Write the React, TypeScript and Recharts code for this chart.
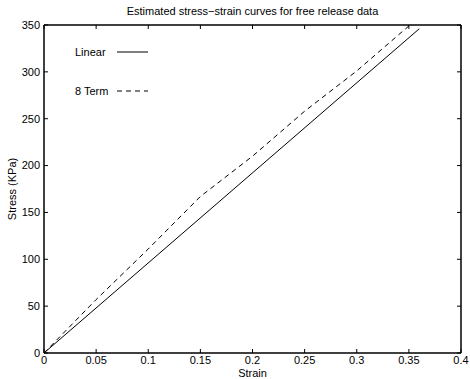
import { LineChart, Line, XAxis, YAxis, Legend } from "recharts";

const title = "Estimated stress\u2212strain curves for free release data";
const seriesNames = ["Linear", "8 Term"];
const xTicks = [0, 0.05, 0.1, 0.15, 0.2, 0.25, 0.3, 0.35, 0.4];
const yTicks = [0, 50, 100, 150, 200, 250, 300, 350];

const linearStrain = [0, 0.36];
const linearStress = [0, 346];

const termStrain = [0, 0.05, 0.1, 0.15, 0.2, 0.25, 0.3, 0.35];
const termStress = [0, 57, 111, 167, 210, 258, 301, 349];

const linearData = linearStrain.map((s, i) => ({ strain: s, stress: linearStress[i] }));
const termData = termStrain.map((s, i) => ({ strain: s, stress: termStress[i] }));

const font = "'Liberation Sans', Arial, Helvetica, sans-serif";
const TICK = 4;
const axisStroke = { stroke: "#000", strokeWidth: 1.5 };

// ticks point into the plot, like matlab
const bottomTick = ({ x, y, payload }: any) => (
  <g>
    <line x1={x} x2={x} y1={y} y2={y - TICK} stroke="#000" strokeWidth={1} />
    <text x={x} y={y + 3} dy="0.71em" textAnchor="middle" fontSize={11} fontFamily={font} fill="#000">
      {String(payload.value)}
    </text>
  </g>
);

const leftTick = ({ x, y, payload }: any) => (
  <g>
    <line x1={x} x2={x + TICK} y1={y} y2={y} stroke="#000" strokeWidth={1} />
    <text x={x - 4} y={y} dy="0.355em" textAnchor="end" fontSize={11} fontFamily={font} fill="#000">
      {String(payload.value)}
    </text>
  </g>
);

const topTick = ({ x, y }: any) => <line x1={x} x2={x} y1={y} y2={y + TICK} stroke="#000" strokeWidth={1} />;

const rightTick = ({ x, y }: any) => <line x1={x} x2={x - TICK} y1={y} y2={y} stroke="#000" strokeWidth={1} />;

function LegendBox({ payload }: any) {
  const items = [...(payload || [])].sort(
    (a: any, b: any) => seriesNames.indexOf(a.value) - seriesNames.indexOf(b.value)
  );
  return (
    <div style={{ fontFamily: font, fontSize: 11, color: "#000" }}>
      {items.map((p: any, i: number) => (
        <div key={i} style={{ display: "flex", alignItems: "center", height: 13, marginBottom: i === 0 ? 26 : 0 }}>
          <span style={{ width: 42 }}>{p.value}</span>
          <svg width={32} height={4}>
            <line
              x1={0}
              x2={31}
              y1={2}
              y2={2}
              stroke="#000"
              strokeWidth={1}
              strokeDasharray={p.payload?.strokeDasharray}
            />
          </svg>
        </div>
      ))}
    </div>
  );
}

export default function App() {
  return (
    <div style={{ position: "absolute", left: 0, top: 0, width: 470, height: 379, background: "#fff", fontFamily: font }}>
      <div
        style={{
          position: "absolute",
          left: 44,
          width: 417,
          top: 5,
          textAlign: "center",
          fontSize: 11,
          lineHeight: "13px",
          color: "#000",
        }}
      >
        {title}
      </div>
      <LineChart width={470} height={379} margin={{ top: 24, right: 8, bottom: 0, left: 0 }}>
        <XAxis
          dataKey="strain"
          type="number"
          domain={[0, 0.4]}
          ticks={xTicks}
          interval={0}
          allowDataOverflow
          height={26}
          tickSize={0}
          tickMargin={0}
          tickLine={false}
          tick={bottomTick}
          axisLine={axisStroke}
          label={({ viewBox }: any) => (
            <text x={viewBox.x + viewBox.width / 2} y={377} textAnchor="middle" fontSize={11} fontFamily={font} fill="#000">
              Strain
            </text>
          )}
        />
        <XAxis
          xAxisId="top"
          orientation="top"
          dataKey="strain"
          type="number"
          domain={[0, 0.4]}
          ticks={xTicks}
          interval={0}
          allowDataOverflow
          height={1}
          tickSize={0}
          tickMargin={0}
          tickLine={false}
          tick={topTick}
          axisLine={axisStroke}
        />
        <YAxis
          type="number"
          domain={[0, 350]}
          ticks={yTicks}
          interval={0}
          allowDataOverflow
          width={44}
          tickSize={0}
          tickMargin={0}
          tickLine={false}
          tick={leftTick}
          axisLine={axisStroke}
          label={({ viewBox }: any) => {
            const cx = 12;
            const cy = viewBox.y + viewBox.height / 2;
            return (
              <text
                x={cx}
                y={cy}
                transform={`rotate(-90, ${cx}, ${cy})`}
                textAnchor="middle"
                dominantBaseline="central"
                fontSize={11}
                fontFamily={font}
                fill="#000"
              >
                Stress (KPa)
              </text>
            );
          }}
        />
        <YAxis
          yAxisId="right"
          orientation="right"
          type="number"
          domain={[0, 350]}
          ticks={yTicks}
          interval={0}
          allowDataOverflow
          width={1}
          tickSize={0}
          tickMargin={0}
          tickLine={false}
          tick={rightTick}
          axisLine={axisStroke}
        />
        <Legend
          layout="horizontal"
          verticalAlign="middle"
          align="center"
          content={<LegendBox />}
          wrapperStyle={{ left: 75, top: 45, width: "auto" }}
        />
        <Line
          xAxisId="top"
          yAxisId="right"
          data={linearData}
          dataKey="stress"
          name="Linear"
          stroke="#000"
          strokeWidth={1}
          dot={false}
          type="linear"
          isAnimationActive={false}
        />
        <Line
          data={termData}
          dataKey="stress"
          name="8 Term"
          stroke="#000"
          strokeWidth={1}
          strokeDasharray="5 4"
          dot={false}
          type="linear"
          isAnimationActive={false}
        />
      </LineChart>
    </div>
  );
}
